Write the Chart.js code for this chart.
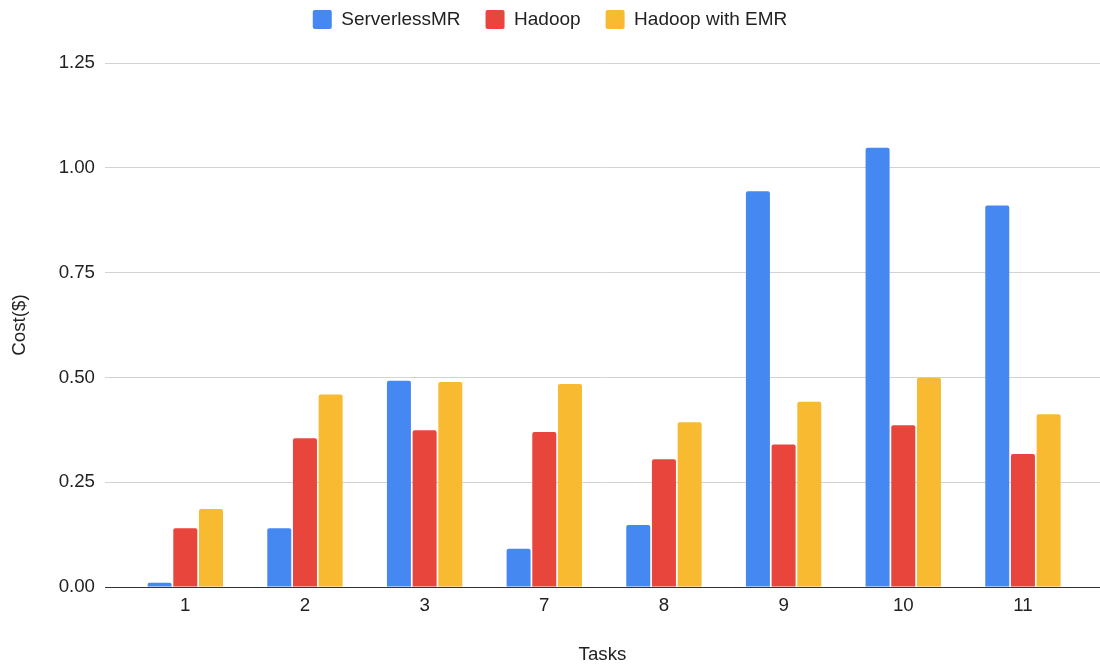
<!DOCTYPE html>
<html>
<head>
<meta charset="utf-8">
<title>Cost per task</title>
<script src="https://cdn.jsdelivr.net/npm/chart.js@4.4.1/dist/chart.umd.min.js"></script>
<style>
  html, body { margin: 0; padding: 0; background: #ffffff; }
  #wrap { width: 1100px; height: 666px; }
</style>
</head>
<body>
<div id="wrap"><canvas id="chart" width="1100" height="666"></canvas></div>
<script>
// Task labels on the x axis
const tasks = ['1', '2', '3', '7', '8', '9', '10', '11'];

// Cost in dollars for each task
const serverlessMR = [0.010, 0.140, 0.492, 0.091, 0.148, 0.944, 1.048, 0.910];
const hadoop       = [0.140, 0.355, 0.374, 0.370, 0.305, 0.340, 0.386, 0.317];
const hadoopEMR    = [0.186, 0.459, 0.489, 0.484, 0.393, 0.442, 0.499, 0.412];

// Y axis ticks
const yTicks = [0, 0.25, 0.5, 0.75, 1.0, 1.25];

const FONT = "'Liberation Sans', Arial, Helvetica, sans-serif";
const TEXT = '#222222';

const toPoints = arr => arr.map((v, i) => ({ x: i, y: v }));

function series(label, values, color) {
  return {
    label,
    data: toPoints(values),
    backgroundColor: color,
    borderColor: color,
    borderWidth: 0,
    borderRadius: { topLeft: 2, topRight: 2, bottomLeft: 0, bottomRight: 0 },
    borderSkipped: 'start',
    categoryPercentage: 0.644,
    barPercentage: 0.934
  };
}

// Keep the legend band at a fixed height so the plot starts below it
const legendBand = {
  id: 'legendBand',
  beforeInit(chart) {
    const legend = chart.legend;
    if (!legend) return;
    const fit = legend.fit;
    legend.fit = function () {
      fit.call(this);
      this.height = 78;
    };
  }
};

new Chart(document.getElementById('chart'), {
  type: 'bar',
  data: {
    datasets: [
      series('ServerlessMR', serverlessMR, '#4688F1'),
      series('Hadoop', hadoop, '#E8453C'),
      series('Hadoop with EMR', hadoopEMR, '#F8BA30')
    ]
  },
  plugins: [legendBand],
  options: {
    responsive: false,
    animation: false,
    devicePixelRatio: 1,
    layout: { padding: { top: -15, left: 0, right: 0, bottom: 0 } },
    plugins: {
      tooltip: { enabled: false },
      legend: {
        display: true,
        position: 'top',
        align: 'center',
        labels: {
          boxWidth: 19,
          boxHeight: 19,
          useBorderRadius: true,
          borderRadius: 2,
          padding: 25,
          color: TEXT,
          font: { family: FONT, size: 19 }
        }
      }
    },
    scales: {
      x: {
        type: 'linear',
        min: -0.671,
        max: 7.644,
        offset: false,
        grid: { display: false, drawTicks: false },
        border: { display: true, color: '#333333', width: 1 },
        ticks: {
          stepSize: 1,
          includeBounds: false,
          autoSkip: false,
          maxRotation: 0,
          padding: 8,
          color: TEXT,
          font: { family: FONT, size: 18.7 },
          callback: (value) => tasks[Math.round(value)] ?? ''
        },
        title: {
          display: true,
          text: 'Tasks',
          color: TEXT,
          font: { family: FONT, size: 18.7 },
          padding: { top: 0, bottom: 0 }
        },
        afterFit(scale) { scale.height = 79; }
      },
      y: {
        type: 'linear',
        min: yTicks[0],
        max: yTicks[yTicks.length - 1],
        grid: { color: '#d3d3d3', lineWidth: 1, drawTicks: false },
        border: { display: false },
        afterBuildTicks(scale) { scale.ticks = yTicks.map(v => ({ value: v })); },
        ticks: {
          padding: 10,
          color: TEXT,
          font: { family: FONT, size: 18.7 },
          callback: (value) => Number(value).toFixed(2)
        },
        title: {
          display: true,
          text: 'Cost($)',
          color: TEXT,
          font: { family: FONT, size: 18.7 },
          padding: { top: 9, bottom: 0 }
        },
        afterFit(scale) { scale.width = 105; }
      }
    }
  }
});
</script>
</body>
</html>
